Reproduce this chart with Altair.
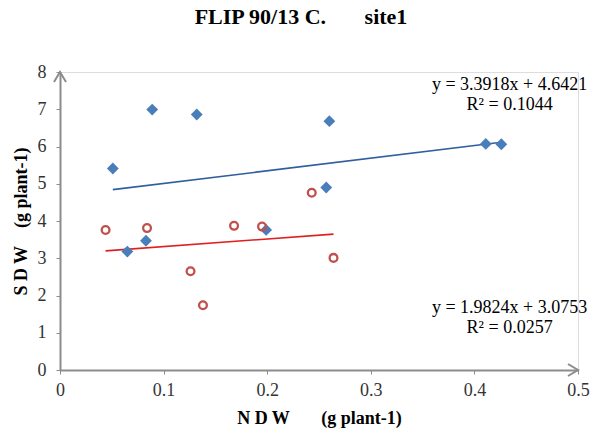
import altair as alt
import pandas as pd

# ---- data ----
blue_x = [0.051, 0.089, 0.132, 0.260, 0.257, 0.199, 0.065, 0.083, 0.411, 0.426]
blue_y = [5.41, 6.99, 6.86, 6.68, 4.90, 3.76, 3.18, 3.47, 6.07, 6.06]
red_x = [0.044, 0.084, 0.126, 0.138, 0.168, 0.195, 0.264, 0.243]
red_y = [3.76, 3.81, 2.65, 1.74, 3.87, 3.85, 3.01, 4.76]
blue_eq = ["y = 3.3918x + 4.6421", "R² = 0.1044"]
red_eq = ["y = 1.9824x + 3.0753", "R² = 0.0257"]
x_ticks = [0, 0.1, 0.2, 0.3, 0.4, 0.5]
y_ticks = [0, 1, 2, 3, 4, 5, 6, 7, 8]

NB = "\u00a0"
title_text = "FLIP 90/13 C." + NB * 7 + "site1"
x_title = "N D W" + NB * 7 + "(g plant-1)"
y_title = "S D W" + NB * 4 + "(g plant-1)"

FONT = "Liberation Serif"
AX = "#8c8c8c"

blue = pd.DataFrame({"x": blue_x, "y": blue_y})
red = pd.DataFrame({"x": red_x, "y": red_y})

xs = alt.Scale(domain=[x_ticks[0], x_ticks[-1]], nice=False, zero=False)
ys = alt.Scale(domain=[y_ticks[0], y_ticks[-1]], nice=False, zero=False)

xaxis = alt.Axis(values=x_ticks, format=".1~f", title=x_title, grid=False,
                 domainColor=AX, domainWidth=2, tickColor=AX, tickSize=4, tickWidth=1,
                 labelFont=FONT, labelFontSize=18, labelColor="#333333", labelPadding=7,
                 labelFlush=False, labelOverlap=False,
                 titleFont=FONT, titleFontSize=18, titleFontWeight="bold",
                 titleColor="#000000", titlePadding=10)
yaxis = alt.Axis(values=y_ticks, format="d", title=y_title, grid=False,
                 domainColor=AX, domainWidth=2, tickColor=AX, tickSize=4, tickWidth=1,
                 labelFont=FONT, labelFontSize=18, labelColor="#333333", labelPadding=10,
                 labelFlush=False, labelOverlap=False,
                 titleFont=FONT, titleFontSize=18, titleFontWeight="bold",
                 titleColor="#000000", titlePadding=7)

X = alt.X("x:Q", scale=xs, axis=xaxis)
Y = alt.Y("y:Q", scale=ys, axis=yaxis)

blue_line = alt.Chart(blue).transform_regression("x", "y").mark_line(
    color="#2f5f9e", strokeWidth=1.6).encode(x=X, y=Y)
red_line = alt.Chart(red).transform_regression("x", "y").mark_line(
    color="#e02020", strokeWidth=1.6).encode(x=X, y=Y)

blue_pts = alt.Chart(blue).mark_point(shape="diamond", filled=True, size=140,
                                      color="#4a7ebb", opacity=1).encode(x=X, y=Y)
red_pts = alt.Chart(red).mark_point(shape="circle", filled=False, size=60,
                                    color="#c0504d", strokeWidth=2.3, opacity=1).encode(x=X, y=Y)

up_arrow = alt.Chart(pd.DataFrame({"x": [x_ticks[0]], "y": [y_ticks[-1]]})).mark_point(
    shape="M-0.6,1L0,0L0.6,1", filled=False, size=400, color=AX, strokeWidth=2,
    opacity=1).encode(x=X, y=Y)
right_arrow = alt.Chart(pd.DataFrame({"x": [x_ticks[-1]], "y": [y_ticks[0]]})).mark_point(
    shape="M-1,-0.6L0,0L-1,0.6", filled=False, size=400, color=AX, strokeWidth=2,
    opacity=1).encode(x=X, y=Y)

def label(txt, xv, yv):
    return alt.Chart(pd.DataFrame({"t": [txt]})).mark_text(
        font=FONT, fontSize=18, color="#000000", align="center", baseline="alphabetic"
    ).encode(x=alt.datum(xv, scale=xs, axis=xaxis), y=alt.datum(yv, scale=ys, axis=yaxis),
             text="t:N")

texts = [label(blue_eq[0], 0.434, 7.52), label(blue_eq[1], 0.434, 6.98),
         label(red_eq[0], 0.434, 1.52), label(red_eq[1], 0.434, 1.0)]

chart = alt.layer(blue_line, red_line, blue_pts, red_pts, up_arrow, right_arrow, *texts).properties(
    width=518, height=298,
    title=alt.TitleParams(title_text, font=FONT, fontSize=22, fontWeight="bold",
                          color="#000000", anchor="middle", offset=34, dx=-18),
    autosize=alt.AutoSizeParams(type="none"),
    padding={"left": 60, "top": 72, "right": 13, "bottom": 62},
).configure_view(stroke=None).configure(background="white")

chart.save("out.html", embed_options={"renderer": "svg", "actions": False})
